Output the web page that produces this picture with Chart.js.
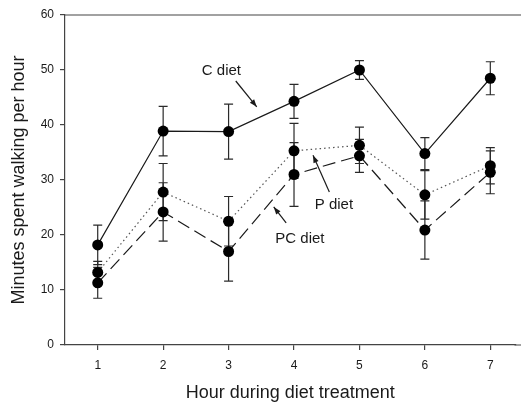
<!DOCTYPE html>
<html>
<head>
<meta charset="utf-8">
<script src="https://cdn.jsdelivr.net/npm/chart.js@4"></script>
<style>
  html, body { margin: 0; padding: 0; background: #fff; }
  #wrap { width: 521px; height: 403px; }
</style>
</head>
<body>
<div id="wrap"><canvas id="myChart" width="521" height="403"></canvas></div>
<script>
// hours 1..7
var hours = [1, 2, 3, 4, 5, 6, 7];

// means
var cDiet  = [18.2, 38.9, 38.8, 44.3, 50.0, 34.8, 48.5];
var pDiet  = [13.2, 27.8, 22.5, 35.3, 36.3, 27.3, 32.6];
var pcDiet = [11.3, 24.2, 17.0, 31.0, 34.4, 20.9, 31.4];

// error bar half widths (SE)
var cErr  = [3.6, 4.5, 5.0, 3.1, 1.7, 2.9, 3.0];
var pErr  = [2.0, 5.2, 4.5, 5.0, 3.3, 4.4, 3.3];
var pcErr = [2.8, 5.3, 5.4, 5.8, 3.0, 5.3, 3.9];

var yTicks = [0, 10, 20, 30, 40, 50, 60];

var FONT = "'Liberation Sans', Arial, Helvetica, sans-serif";
var INK = '#1a1a1a';

function pts(vals) {
    var out = [];
    for (var i = 0; i < hours.length; i++) out.push({x: hours[i], y: vals[i]});
    return out;
}

// labels with arrows, in data units
var notes = [
    {text: 'C diet',  x: 2.89, y: 49.8, ax: 3.11, ay: 48.0, bx: 3.43, by: 43.3},
    {text: 'P diet',  x: 4.61, y: 25.5, ax: 4.54, ay: 27.8, bx: 4.29, by: 34.5},
    {text: 'PC diet', x: 4.09, y: 19.3, ax: 3.88, ay: 22.2, bx: 3.69, by: 25.1}
];

var errorBars = {
    id: 'errorBars',
    beforeDatasetsDraw: function(chart) {
        var ctx = chart.ctx, xs = chart.scales.x, ys = chart.scales.y;
        var sets = [[cDiet, cErr], [pDiet, pErr], [pcDiet, pcErr]];
        ctx.save();
        ctx.strokeStyle = '#2a2a2a';
        ctx.lineWidth = 1.2;
        sets.forEach(function(s) {
            for (var i = 0; i < hours.length; i++) {
                var x = xs.getPixelForValue(hours[i]);
                var top = ys.getPixelForValue(s[0][i] + s[1][i]);
                var bot = ys.getPixelForValue(s[0][i] - s[1][i]);
                ctx.beginPath();
                ctx.moveTo(x, top); ctx.lineTo(x, bot);
                ctx.moveTo(x - 4.5, top); ctx.lineTo(x + 4.5, top);
                ctx.moveTo(x - 4.5, bot); ctx.lineTo(x + 4.5, bot);
                ctx.stroke();
            }
        });
        ctx.restore();
    },
    afterDraw: function(chart) {
        var ctx = chart.ctx, xs = chart.scales.x, ys = chart.scales.y, a = chart.chartArea;
        ctx.save();
        // top and bottom frame lines run to the canvas edge
        ctx.strokeStyle = '#444';
        ctx.lineWidth = 1.2;
        ctx.beginPath();
        ctx.moveTo(a.left, a.top); ctx.lineTo(chart.width, a.top);
        ctx.moveTo(a.right - 1, a.bottom); ctx.lineTo(chart.width, a.bottom);
        ctx.stroke();
        // annotations
        ctx.fillStyle = INK;
        ctx.strokeStyle = INK;
        ctx.font = '15px ' + FONT;
        ctx.textAlign = 'center';
        ctx.textBaseline = 'middle';
        notes.forEach(function(n) {
            ctx.fillText(n.text, xs.getPixelForValue(n.x), ys.getPixelForValue(n.y));
            var x1 = xs.getPixelForValue(n.ax), y1 = ys.getPixelForValue(n.ay);
            var x2 = xs.getPixelForValue(n.bx), y2 = ys.getPixelForValue(n.by);
            var ang = Math.atan2(y2 - y1, x2 - x1);
            ctx.lineWidth = 1.2;
            ctx.beginPath(); ctx.moveTo(x1, y1); ctx.lineTo(x2, y2); ctx.stroke();
            ctx.beginPath();
            ctx.moveTo(x2, y2);
            ctx.lineTo(x2 - 8 * Math.cos(ang - 0.35), y2 - 8 * Math.sin(ang - 0.35));
            ctx.lineTo(x2 - 8 * Math.cos(ang + 0.35), y2 - 8 * Math.sin(ang + 0.35));
            ctx.closePath(); ctx.fill();
        });
        ctx.restore();
    }
};

function series(label, vals, dash, color) {
    return {
        label: label,
        data: pts(vals),
        borderColor: color,
        borderWidth: 1.2,
        borderDash: dash,
        backgroundColor: INK,
        pointBackgroundColor: '#000',
        pointBorderColor: '#000',
        pointRadius: 5.5,
        pointBorderWidth: 0,
        fill: false,
        tension: 0
    };
}

var ctx = document.getElementById('myChart');
var myChart = new Chart(ctx, {
    type: 'line',
    data: {
        datasets: [
            series('C diet', cDiet, [], INK),
            series('P diet', pDiet, [1.5, 3], '#555'),
            series('PC diet', pcDiet, [13, 6], INK)
        ]
    },
    options: {
        responsive: false,
        animation: false,
        devicePixelRatio: 1,
        layout: { padding: { top: 15, right: 0, left: 0, bottom: 0 } },
        plugins: { legend: { display: false }, tooltip: { enabled: false } },
        scales: {
            x: {
                type: 'linear',
                min: 0.5,
                max: 7.385,
                afterFit: function(s) { s.height = 58; },
                afterBuildTicks: function(s) {
                    s.ticks = hours.map(function(h) { return {value: h}; });
                },
                ticks: { color: INK, font: { family: FONT, size: 12 }, padding: 8 },
                grid: { drawOnChartArea: false, drawTicks: true, tickLength: 5, color: '#444', lineWidth: 1.2 },
                border: { display: true, color: '#444', width: 1.2 },
                title: { display: true, text: 'Hour during diet treatment', color: INK,
                         font: { family: FONT, size: 18 }, padding: { top: 10, bottom: -1 } }
            },
            y: {
                min: 0,
                max: 60,
                afterFit: function(s) { s.width = 65; },
                afterBuildTicks: function(s) {
                    s.ticks = yTicks.map(function(v) { return {value: v}; });
                },
                ticks: { color: INK, font: { family: FONT, size: 12 }, padding: 6 },
                grid: { drawOnChartArea: false, drawTicks: true, tickLength: 5, color: '#444', lineWidth: 1.2 },
                border: { display: true, color: '#444', width: 1.2 },
                title: { display: true, text: 'Minutes spent walking per hour', color: INK,
                         font: { family: FONT, size: 18 }, padding: { top: 8, bottom: 4 } }
            }
        }
    },
    plugins: [errorBars]
});
</script>
</body>
</html>
